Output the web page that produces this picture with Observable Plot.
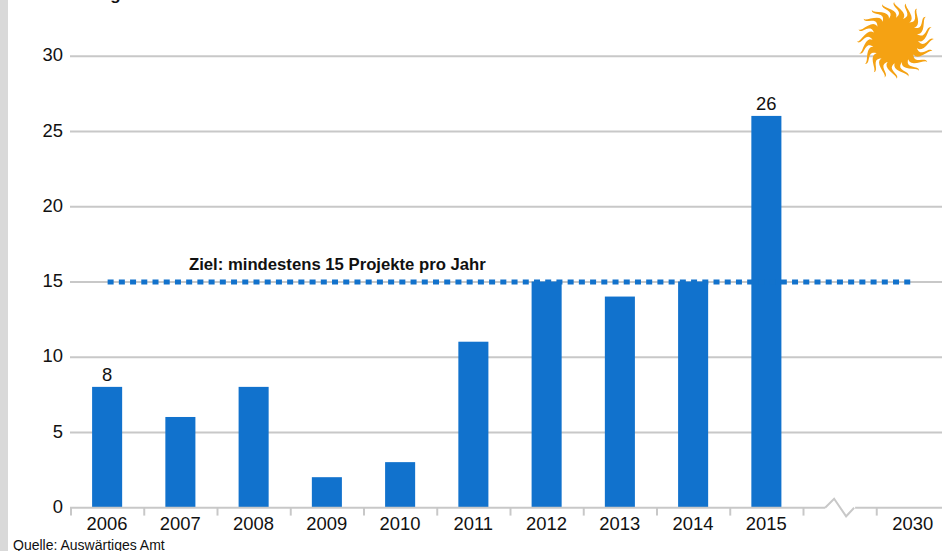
<!DOCTYPE html>
<html><head><meta charset="utf-8">
<script src="https://cdn.jsdelivr.net/npm/d3@7"></script>
<script src="https://cdn.jsdelivr.net/npm/@observablehq/plot@0.6"></script>
<style>
html,body{margin:0;padding:0;background:#fff;overflow:hidden;font-family:"Liberation Sans",Arial,sans-serif}
#wrap{position:relative;width:942px;height:551px;overflow:hidden}
#stripe{position:absolute;left:0;top:0;width:8px;height:551px;background:#d9d9d9}
#cap{position:absolute;left:13px;top:535px;font-size:14px;line-height:20px;color:#111;white-space:nowrap}
svg{display:block}
</style></head><body>
<div id="wrap"><div id="chart"></div><div id="stripe"></div><div id="cap">Quelle: Auswärtiges Amt</div></div>
<script>
const categories = ["2006","2007","2008","2009","2010","2011","2012","2013","2014","2015","gap","2030"];
const years = ["2006","2007","2008","2009","2010","2011","2012","2013","2014","2015"];
const projects = [8,6,8,2,3,11,15,14,15,26];
const labelledYears = ["2006","2015"];
const target = 15;
const targetSpan = ["2006","2030"];
const yTicks = [0,5,10,15,20,25,30];
const targetLabel = "Ziel: mindestens 15 Projekte pro Jahr";
// The reference clips this title at the top edge: only "Entwicklung" fits the visible trace, the rest is a placeholder of matching length.
const titleText = "Entwicklung der Anzahl der neuen Vorhaben und Initiativen in Deutschland";

const bars = years.map((y,i)=>({year:y,value:projects[i]}));
const GRID = "#c8c8c8", BLUE = "#1272cc", SUN = "#f5a213";
const band = 73.25;

// decorative glyphs, drawn as Plot symbols
const sunSymbol = {draw(c){
  const n = 20, R0 = 20, R1 = 38.5;
  c.arc(0,0,23,0,2*Math.PI); c.closePath();
  for(let i=0;i<n;i++){
    const a = i/n*2*Math.PI + 0.1;
    const left=[], right=[];
    for(let k=0;k<=10;k++){
      const t=k/10, r=R0+t*(R1-R0);
      const th=a+0.14*Math.sin(t*Math.PI*1.6);
      const hw=3.9*Math.pow(1-t,0.8);
      const cx=Math.cos(th)*r, cy=Math.sin(th)*r;
      const nx=-Math.sin(th), ny=Math.cos(th);
      left.push([cx+nx*hw,cy+ny*hw]); right.push([cx-nx*hw,cy-ny*hw]);
    }
    const pts=right.concat(left.reverse());
    pts.forEach((p,j)=>j?c.lineTo(p[0],p[1]):c.moveTo(p[0],p[1]));
    c.closePath();
  }
}};
const gapSymbol = {draw(c){ c.rect(-15,-2,30,4); }};
const zigzagSymbol = {draw(c){
  c.moveTo(-15,0); c.lineTo(-6,-9); c.lineTo(6,8.5); c.lineTo(14,0);
}};

const plot = Plot.plot({
  width:942, height:535,
  marginLeft:70, marginRight:0, marginTop:0, marginBottom:28,
  style:{fontFamily:'"Liberation Sans",Arial,sans-serif',background:"transparent",overflow:"hidden"},
  x:{type:"band",domain:categories,range:[70.5,70.5+band*12],padding:0,round:false,label:null},
  y:{domain:[0,30],range:[507.3,55.7],label:null},
  marks:[
    Plot.ruleY(yTicks.filter(d=>d>0),{stroke:GRID,strokeWidth:2}),
    Plot.barY(bars,{x:"year",y:"value",fill:"#1172cd",insetLeft:21.6,insetRight:21.6}),
    Plot.ruleY([0],{stroke:GRID,strokeWidth:2}),
    Plot.ruleX(categories,{x:d=>d,y1:0,y2:-0.55,dx:-band/2,stroke:GRID,strokeWidth:2}),
    Plot.dot(["gap"],{x:d=>d,y:()=>0,symbol:gapSymbol,fill:"white",stroke:"none",r:5}),
    Plot.dot(["gap"],{x:d=>d,y:()=>0,symbol:zigzagSymbol,fill:"none",stroke:GRID,strokeWidth:2,r:5}),
    Plot.line(targetSpan,{x:d=>d,y:()=>target,stroke:BLUE,strokeWidth:5,strokeLinecap:"butt",strokeDasharray:"6 5.22"}),
    Plot.dot(["2030"],{x:d=>d,y:()=>31.05,dx:-18,symbol:sunSymbol,fill:SUN,stroke:"none",r:10}),
    Plot.axisY({ticks:yTicks,tickSize:0,tickPadding:7.5,fontSize:18.4,fill:"#111",label:null,marginLeft:70,dy:-0.7}),
    Plot.axisX({ticks:categories,tickSize:0,tickPadding:9,fontSize:18.4,fill:"#111",label:null,dx:-0.6,
      tickFormat:d=>d==="gap"?"":d}),
    Plot.text(bars.filter(d=>labelledYears.includes(d.year)),{x:"year",y:"value",text:d=>String(d.value),
      dy:-12,dx:-0.6,fontSize:18.4,fill:"#111"}),
    Plot.text([targetLabel],{x:()=>"2009",y:()=>target,text:d=>d,dx:10,dy:-17,fontSize:16.7,fontWeight:"bold",fill:"#111"}),
    Plot.text([titleText],{frameAnchor:"top-left",text:d=>d,dx:20-70,dy:-12.6,textAnchor:"start",lineAnchor:"top",
      fontSize:17,fontWeight:"bold",fill:"#111"})
  ]
});
document.getElementById("chart").append(plot);
</script></body></html>
